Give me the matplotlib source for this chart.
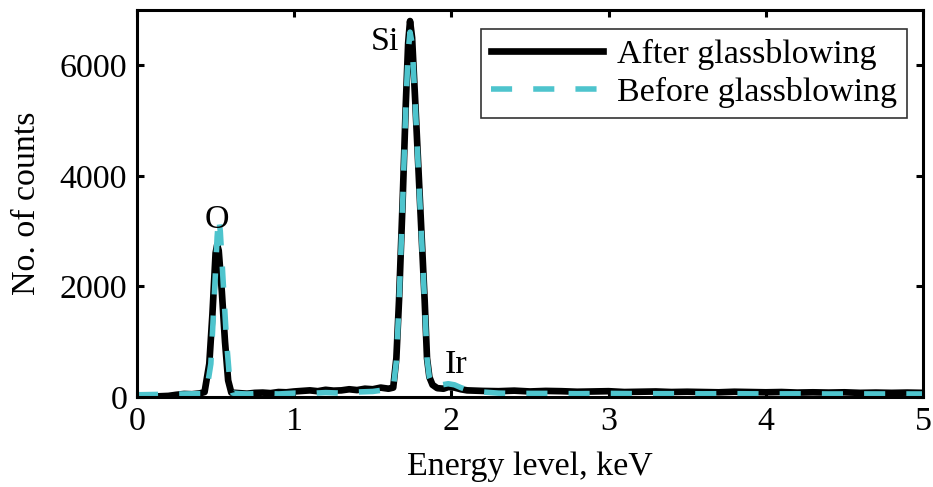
import matplotlib
matplotlib.use("Agg")
import matplotlib.pyplot as plt

plt.rcParams['font.family'] = ['Liberation Serif', 'DejaVu Serif']

energy_after = [0.00, 0.10, 0.20, 0.25, 0.30, 0.35, 0.40, 0.43, 0.46, 0.48, 0.50, 0.51, 0.52, 0.54,
                0.56, 0.58, 0.60, 0.65, 0.70, 0.75, 0.80, 0.85, 0.90, 0.95, 1.00, 1.05, 1.10, 1.15,
                1.20, 1.25, 1.30, 1.35, 1.40, 1.45, 1.50, 1.55, 1.60, 1.63, 1.65, 1.667, 1.69, 1.71,
                1.725, 1.737, 1.75, 1.77, 1.80, 1.83, 1.845, 1.86, 1.88, 1.91, 1.95, 1.98, 2.02,
                2.06, 2.10, 2.2, 2.3, 2.4, 2.5, 2.6, 2.7, 2.8, 2.9, 3.0, 3.1, 3.2, 3.3, 3.4, 3.5,
                3.6, 3.7, 3.8, 3.9, 4.0, 4.1, 4.2, 4.3, 4.4, 4.5, 4.6, 4.7, 4.8, 4.9, 5.0]
counts_after = [5, 8, 20, 40, 55, 50, 65, 90, 600, 1500, 2600, 2750, 2650, 1900,
                1000, 300, 80, 70, 60, 75, 80, 70, 90, 85, 100, 110, 120, 105,
                130, 115, 120, 140, 125, 150, 140, 170, 150, 170, 700, 1750, 3550, 5300,
                6400, 6800, 6500, 5350, 3550, 1750, 700, 360, 220, 160, 150, 180, 170,
                140, 120, 110, 105, 115, 100, 110, 105, 95, 100, 105, 90, 95, 100, 90, 95,
                90, 85, 95, 90, 85, 90, 80, 85, 80, 85, 75, 80, 75, 80, 75]

energy_before = [0.00, 0.10, 0.20, 0.30, 0.40, 0.44, 0.47, 0.49, 0.51, 0.52, 0.53, 0.55, 0.57,
                 0.59, 0.61, 0.65, 0.70, 0.80, 0.90, 1.00, 1.10, 1.20, 1.30, 1.40, 1.50, 1.55,
                 1.60, 1.63, 1.65, 1.667, 1.69, 1.71, 1.725, 1.737, 1.75, 1.77, 1.80, 1.83,
                 1.845, 1.86, 1.88, 1.91, 1.94, 1.98, 2.02, 2.06, 2.10, 2.2, 2.3, 2.4, 2.6,
                 2.8, 3.0, 3.2, 3.4, 3.6, 3.8, 4.0, 4.2, 4.4, 4.6, 4.8, 5.0]
counts_before = [40, 45, 50, 55, 60, 60, 600, 1700, 2900, 3250, 3000, 2000, 1000,
                 300, 70, 60, 55, 65, 55, 70, 65, 80, 70, 90, 100, 120,
                 110, 150, 650, 1700, 3500, 5250, 6250, 6600, 6400, 5300, 3500, 1700,
                 700, 350, 200, 150, 220, 240, 220, 170, 130, 90, 70, 65, 65,
                 60, 65, 60, 60, 58, 60, 56, 58, 55, 56, 55, 55]

series_labels = ["After glassblowing", "Before glassblowing"]
peak_labels = ["O", "Si", "Ir"]
peak_pos = [(0.509, 3200), (1.58, 6420), (2.03, 580)]
x_ticks = [0, 1, 2, 3, 4, 5]
y_ticks = [0, 2000, 4000, 6000]

FS = 24.5

fig = plt.figure(figsize=(9.33, 4.87), dpi=100)
ax = fig.add_axes([0.1468, 0.1848, 0.8425, 0.7947])

ax.plot(energy_after, counts_after, color='black', lw=4.8, label=series_labels[0],
        solid_joinstyle='round')
ax.plot(energy_before, counts_before, color='#4EC4CD', lw=4.0, linestyle=(0, (3.8, 3.8)),
        label=series_labels[1])

for lab, (px, py) in zip(peak_labels, peak_pos):
    ax.text(px, py, lab, fontsize=FS, ha='center', va='center')

ax.set_xlim(0, 5)
ax.set_ylim(0, 7000)
ax.set_xticks(x_ticks)
ax.set_yticks(y_ticks)
ax.tick_params(direction='in', length=5, width=2.2, labelsize=FS, top=True, right=True,
               pad=7)
for s in ax.spines.values():
    s.set_linewidth(2.2)

ax.set_xlabel("Energy level, keV", fontsize=FS, labelpad=10)
ax.set_ylabel("No. of counts", fontsize=FS, labelpad=13)

leg = ax.legend(loc='upper right', fontsize=FS, frameon=True, fancybox=False,
                edgecolor='black', handlelength=3.3, borderpad=0.3, labelspacing=0.2,
                handletextpad=0.4, borderaxespad=0, bbox_to_anchor=(0.98, 0.951))
leg.get_frame().set_linewidth(1.2)

fig.savefig("out.png", dpi=100)
